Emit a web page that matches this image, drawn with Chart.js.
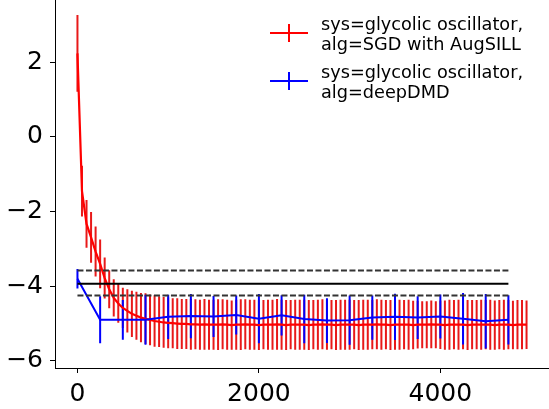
<!DOCTYPE html>
<html>
<head>
<meta charset="UTF-8">
<title>glycolic oscillator</title>
<script src="https://cdn.jsdelivr.net/npm/chart.js"></script>
<style>
  body { margin: 0; background: #fff; }
  #wrap { width: 549px; height: 409px; }
</style>
</head>
<body>
<div id="wrap"><canvas id="grafico" width="549" height="409"></canvas></div>
<script>
// training step of each point
const redSteps = [0, 50, 100, 150, 200, 250, 300, 350, 400, 450,
  500, 550, 600, 650, 700, 750, 800, 850, 900, 950,
  1000, 1050, 1100, 1150, 1200, 1250, 1300, 1350, 1400, 1450,
  1500, 1550, 1600, 1650, 1700, 1750, 1800, 1850, 1900, 1950,
  2000, 2050, 2100, 2150, 2200, 2250, 2300, 2350, 2400, 2450,
  2500, 2550, 2600, 2650, 2700, 2750, 2800, 2850, 2900, 2950,
  3000, 3050, 3100, 3150, 3200, 3250, 3300, 3350, 3400, 3450,
  3500, 3550, 3600, 3650, 3700, 3750, 3800, 3850, 3900, 3950,
  4000, 4050, 4100, 4150, 4200, 4250, 4300, 4350, 4400, 4450,
  4500, 4550, 4600, 4650, 4700, 4750, 4800, 4850, 4900, 4950];

// SGD with AugSILL: mean and spread
const redMean = [2.24, -1.45, -2.33, -2.69, -3.07, -3.40, -3.78, -4.08, -4.31, -4.46,
  -4.58, -4.66, -4.74, -4.79, -4.84, -4.87, -4.90, -4.93, -4.95, -4.97,
  -4.98, -4.99, -5.00, -5.01, -5.01, -5.02, -5.02, -5.03, -5.02, -5.03,
  -5.03, -5.03, -5.02, -5.03, -5.04, -5.03, -5.03, -5.02, -5.03, -5.03,
  -5.04, -5.03, -5.03, -5.03, -5.02, -5.03, -5.04, -5.03, -5.03, -5.03,
  -5.03, -5.04, -5.03, -5.03, -5.02, -5.03, -5.03, -5.04, -5.03, -5.03,
  -5.03, -5.03, -5.04, -5.03, -5.03, -5.03, -5.02, -5.03, -5.03, -5.04,
  -5.03, -5.03, -5.03, -5.03, -5.04, -5.03, -5.03, -5.03, -5.02, -5.03,
  -5.03, -5.04, -5.03, -5.03, -5.03, -5.03, -5.04, -5.03, -5.03, -5.03,
  -5.03, -5.03, -5.04, -5.03, -5.03, -5.03, -5.04, -5.03, -5.03, -5.03];
const redErr = [1.03, 0.68, 0.64, 0.68, 0.67, 0.65, 0.55, 0.51, 0.50, 0.52,
  0.54, 0.58, 0.62, 0.64, 0.66, 0.68, 0.68, 0.69, 0.68, 0.68,
  0.68, 0.67, 0.68, 0.67, 0.67, 0.68, 0.67, 0.67, 0.68, 0.67,
  0.67, 0.68, 0.67, 0.67, 0.66, 0.67, 0.68, 0.67, 0.67, 0.67,
  0.67, 0.66, 0.67, 0.67, 0.68, 0.67, 0.67, 0.66, 0.67, 0.67,
  0.67, 0.67, 0.66, 0.67, 0.67, 0.67, 0.66, 0.67, 0.67, 0.67,
  0.67, 0.66, 0.67, 0.67, 0.67, 0.66, 0.67, 0.67, 0.66, 0.67,
  0.67, 0.67, 0.66, 0.67, 0.65, 0.64, 0.63, 0.63, 0.64, 0.63,
  0.65, 0.66, 0.67, 0.66, 0.67, 0.66, 0.67, 0.66, 0.66, 0.67,
  0.66, 0.67, 0.66, 0.66, 0.67, 0.66, 0.65, 0.66, 0.66, 0.65];

// deepDMD
const blueSteps = [0, 250, 500, 750, 1000, 1250, 1500, 1750, 2000, 2250,
  2500, 2750, 3000, 3250, 3500, 3750, 4000, 4250, 4500, 4750];
const blueMean = [-3.80, -4.90, -4.90, -4.90, -4.82, -4.80, -4.81, -4.77, -4.87, -4.78,
  -4.88, -4.92, -4.91, -4.84, -4.82, -4.84, -4.81, -4.87, -4.94, -4.90];
const blueErr = [0.26, 0.63, 0.53, 0.67, 0.59, 0.59, 0.55, 0.52, 0.66, 0.54,
  0.65, 0.60, 0.66, 0.59, 0.62, 0.57, 0.59, 0.69, 0.73, 0.66];

// horizontal reference lines
const refSpan = [0, 4750];
const refSolid = -3.93;
const refDashed = [-3.58, -4.25];

const xTicks = [0, 2000, 4000];
const yTicks = [-6, -4, -2, 0, 2];

const legendItens = [
  { cor: '#ff0000', linhas: ['sys=glycolic oscillator,', 'alg=SGD with AugSILL'] },
  { cor: '#0000ff', linhas: ['sys=glycolic oscillator,', 'alg=deepDMD'] }
];

function pontos(xs, ys) {
  return xs.map((x, i) => ({ x: x, y: ys[i] }));
}

// cada barra de erro vira um segmento, separados por null
function barrasErro(xs, ys, es) {
  let out = [];
  xs.forEach((x, i) => {
    out.push({ x: x, y: ys[i] - es[i] });
    out.push({ x: x, y: ys[i] + es[i] });
    out.push({ x: x, y: null });
  });
  return out;
}

function linhaRef(y) {
  return refSpan.map(x => ({ x: x, y: y }));
}

const base = { showLine: true, pointRadius: 0, tension: 0, spanGaps: false, fill: false };

const legendaPlugin = {
  id: 'legenda',
  afterDraw(chart) {
    const ctx = chart.ctx;
    ctx.save();
    ctx.font = '17.7px "DejaVu Sans"';
    ctx.fillStyle = '#000';
    ctx.textBaseline = 'alphabetic';
    legendItens.forEach((item, i) => {
      const yMid = 33 + i * 48;
      ctx.strokeStyle = item.cor;
      ctx.lineWidth = 2;
      ctx.beginPath();
      ctx.moveTo(270, yMid);
      ctx.lineTo(308, yMid);
      ctx.moveTo(289, yMid - 9);
      ctx.lineTo(289, yMid + 9);
      ctx.stroke();
      ctx.fillText(item.linhas[0], 321, yMid - 3);
      ctx.fillText(item.linhas[1], 321, yMid + 17);
    });
    ctx.restore();
  }
};

const fonteTick = { family: 'DejaVu Sans', size: 25 };

new Chart(document.getElementById('grafico'), {
  type: 'scatter',
  data: {
    datasets: [
      Object.assign({}, base, { data: linhaRef(refSolid), borderColor: '#000', borderWidth: 2, order: 0 }),
      Object.assign({}, base, { data: linhaRef(refDashed[0]), borderColor: '#333', borderWidth: 2, borderDash: [6, 2.5], order: 0 }),
      Object.assign({}, base, { data: linhaRef(refDashed[1]), borderColor: '#333', borderWidth: 2, borderDash: [6, 2.5], order: 0 }),
      Object.assign({}, base, { data: pontos(blueSteps, blueMean), borderColor: '#0000ff', borderWidth: 2, order: 1 }),
      Object.assign({}, base, { data: pontos(redSteps, redMean), borderColor: '#ff0000', borderWidth: 2.2, order: 2 }),
      Object.assign({}, base, { data: barrasErro(blueSteps, blueMean, blueErr), borderColor: '#0000ff', borderWidth: 2, order: 3 }),
      Object.assign({}, base, { data: barrasErro(redSteps, redMean, redErr), borderColor: 'rgba(230,0,0,0.9)', borderWidth: 2, order: 4 })
    ]
  },
  options: {
    responsive: false,
    animation: false,
    layout: { padding: 0 },
    plugins: { legend: { display: false }, tooltip: { enabled: false } },
    scales: {
      x: {
        type: 'linear',
        min: -247.5,
        max: 5197.5,
        afterBuildTicks: s => { s.ticks = xTicks.map(v => ({ value: v })); },
        afterFit: s => { s.height = 41; s.paddingLeft = 0; s.paddingRight = 0; },
        ticks: { font: fonteTick, color: '#000', padding: 6, maxRotation: 0, callback: v => String(v) },
        grid: { drawOnChartArea: false, drawTicks: true, tickLength: 5, tickColor: '#000', tickWidth: 1 },
        border: { display: true, color: '#000', width: 1 }
      },
      y: {
        type: 'linear',
        min: -6.19,
        max: 3.67,
        afterBuildTicks: s => { s.ticks = yTicks.map(v => ({ value: v })); },
        afterFit: s => { s.width = 55; s.paddingTop = 0; s.paddingBottom = 0; },
        ticks: { font: fonteTick, color: '#000', padding: 7, callback: v => (v < 0 ? '\u2212' + Math.abs(v) : String(v)) },
        grid: { drawOnChartArea: false, drawTicks: true, tickLength: 5, tickColor: '#000', tickWidth: 1 },
        border: { display: true, color: '#000', width: 1 }
      }
    }
  },
  plugins: [legendaPlugin]
});
</script>
</body>
</html>
